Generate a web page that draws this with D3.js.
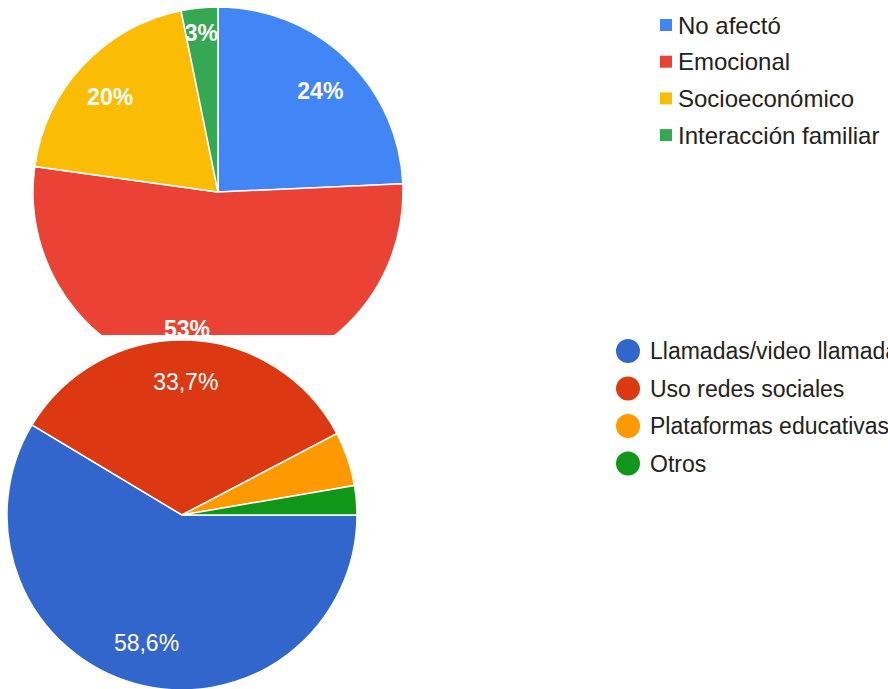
<!DOCTYPE html>
<html>

<head>
	<meta charset="utf-8">
	<title>Pies</title>
	<script src="https://d3js.org/d3.v7.min.js"></script>
	<style>
		body {
			margin: 0;
			padding: 0;
			background: white;
			overflow: hidden;
		}

		text {
			font-family: "Liberation Sans", Arial, sans-serif;
		}
	</style>
</head>

<body>
	<script>
		// top chart
		var topCats = ["No afectó", "Emocional", "Socioeconómico", "Interacción familiar"];
		var topVals = [24.3, 52.9, 19.6, 3.2];
		var topLabels = ["24%", "53%", "20%", "3%"];
		var topColors = ["#4285f4", "#ea4335", "#fbbc04", "#34a853"];

		// bottom chart
		var botCats = ["Llamadas/video llamadas", "Uso redes sociales", "Plataformas educativas", "Otros"];
		var botVals = [58.6, 33.7, 5.0, 2.7];
		var botLabels = ["58,6%", "33,7%", "", ""];
		var botColors = ["#3366cc", "#dc3912", "#ff9900", "#109618"];

		var width = 888,
			height = 689;
		var cut = 335; // the top chart is cropped here

		var svg = d3.select("body").append("svg")
			.attr("width", width)
			.attr("height", height);

		svg.append("clipPath").attr("id", "topclip")
			.append("rect").attr("x", 0).attr("y", 0).attr("width", width).attr("height", cut);

		function drawPie(g, vals, labels, colors, r, start, labelR, bold, dy, maxY) {
			var pie = d3.pie().sort(null).startAngle(start).endAngle(start + 2 * Math.PI);
			var arc = d3.arc().innerRadius(0).outerRadius(r);
			var arcs = pie(vals);

			g.selectAll("path")
				.data(arcs)
				.enter().append("path")
				.attr("d", arc)
				.style("fill", (d, i) => colors[i])
				.style("stroke", "white")
				.style("stroke-width", 1.5);

			var t = g.selectAll("text")
				.data(arcs)
				.enter().append("text")
				.attr("text-anchor", "middle")
				.attr("dominant-baseline", "central")
				.style("fill", "white")
				.style("font-size", "23px")
				.style("font-weight", bold ? "bold" : "normal")
				.text((d, i) => labels[i]);

			// narrow slices push their label outward so it fits
			t.attr("transform", function(d) {
				var w = this.getComputedTextLength();
				var span = d.endAngle - d.startAngle;
				var lr = Math.min(Math.max(labelR, w / span), r - 14);
				var a = (d.startAngle + d.endAngle) / 2;
				var x = Math.sin(a) * lr,
					y = Math.min(-Math.cos(a) * lr + dy, maxY);
				if (y === maxY) x -= 24;
				return "translate(" + x + "," + y + ")";
			});
		}

		var gTop = svg.append("g")
			.attr("clip-path", "url(#topclip)")
			.append("g")
			.attr("transform", "translate(218,192)");
		drawPie(gTop, topVals, topLabels, topColors, 185, 0, 148, true, 6, cut - 192 - 6);

		var gBot = svg.append("g")
			.attr("transform", "translate(182,515)");
		drawPie(gBot, botVals, botLabels, botColors, 175, Math.PI / 2, 133, false, 0, Infinity);

		// legends
		var legTop = svg.append("g").selectAll("g")
			.data(topCats)
			.enter().append("g")
			.attr("transform", (d, i) => "translate(660," + (25 + i * 36.7) + ")");
		legTop.append("rect")
			.attr("x", 0).attr("y", -6)
			.attr("width", 12).attr("height", 12)
			.style("fill", (d, i) => topColors[i]);
		legTop.append("text")
			.attr("x", 18)
			.attr("dominant-baseline", "central")
			.style("font-size", "24px")
			.style("fill", "#222")
			.text((d) => d);

		var legBot = svg.append("g").selectAll("g")
			.data(botCats)
			.enter().append("g")
			.attr("transform", (d, i) => "translate(628," + (351 + i * 37.5) + ")");
		legBot.append("circle")
			.attr("r", 12)
			.style("fill", (d, i) => botColors[i]);
		legBot.append("text")
			.attr("x", 22)
			.attr("dominant-baseline", "central")
			.style("font-size", "23px")
			.style("fill", "#222")
			.text((d) => d);
	</script>
</body>

</html>
